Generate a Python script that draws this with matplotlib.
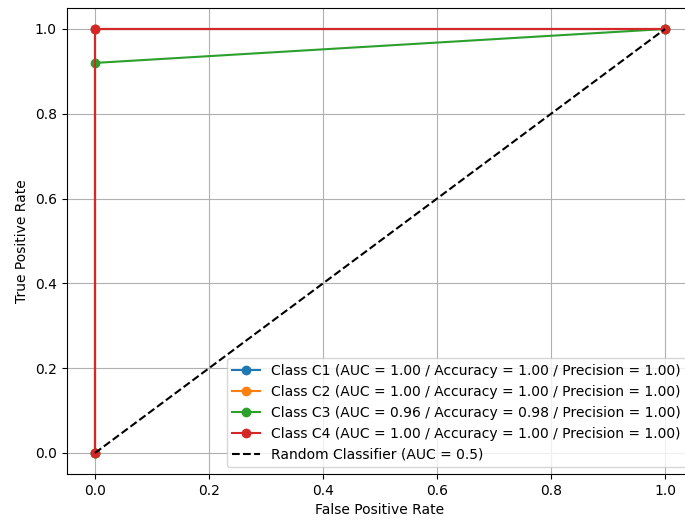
import matplotlib
matplotlib.use("Agg")
import matplotlib.pyplot as plt

classes = ["C1", "C2", "C3", "C4"]
fpr = {
    "C1": [0.0, 0.0, 1.0],
    "C2": [0.0, 0.0, 1.0],
    "C3": [0.0, 0.0, 1.0],
    "C4": [0.0, 0.0, 1.0],
}
tpr = {
    "C1": [0.0, 1.0, 1.0],
    "C2": [0.0, 1.0, 1.0],
    "C3": [0.0, 0.92, 1.0],
    "C4": [0.0, 1.0, 1.0],
}
auc = {"C1": 1.00, "C2": 1.00, "C3": 0.96, "C4": 1.00}
accuracy = {"C1": 1.00, "C2": 1.00, "C3": 0.98, "C4": 1.00}
precision = {"C1": 1.00, "C2": 1.00, "C3": 1.00, "C4": 1.00}

fig = plt.figure(figsize=(6.85, 5.2), dpi=100)
ax = fig.add_axes([66.5 / 685, (520 - 474.2) / 520, 627 / 685, 466.4 / 520])

for c in classes:
    ax.plot(fpr[c], tpr[c], marker="o",
            label=f"Class {c} (AUC = {auc[c]:.2f} / Accuracy = {accuracy[c]:.2f} / Precision = {precision[c]:.2f})")
ax.plot([0, 1], [0, 1], "k--", label="Random Classifier (AUC = 0.5)")

ax.set_xlabel("False Positive Rate")
ax.set_ylabel("True Positive Rate")
ax.grid(True)
ax.legend(loc="lower right")

fig.savefig("out.png", dpi=100)
